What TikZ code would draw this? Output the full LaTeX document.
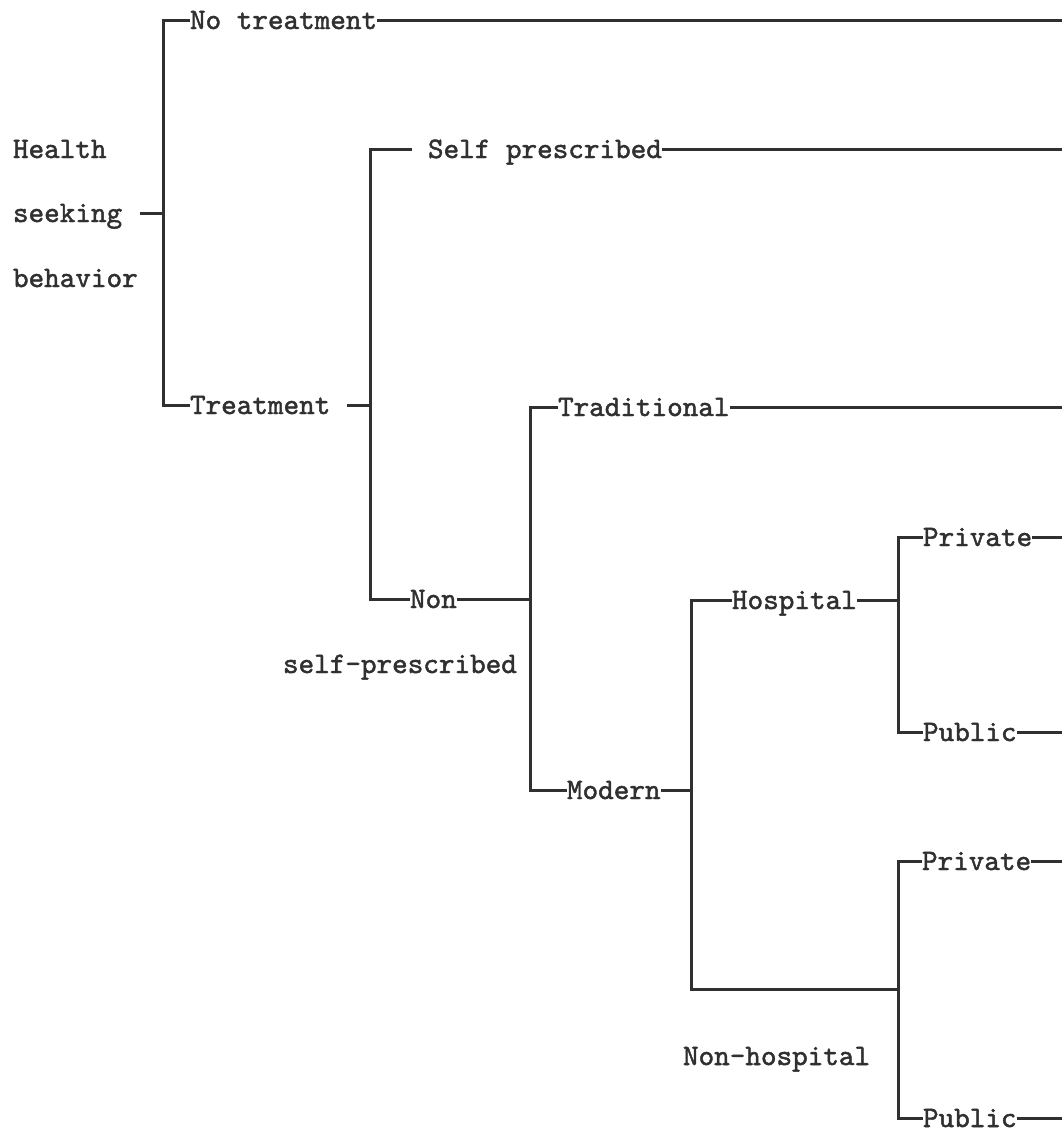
\documentclass[tikz,border=0pt]{standalone}
\usepackage{fontspec}
\newfontfamily\typewriter{lmmono10-regular}[Extension=.otf, FakeBold=1.6]
\definecolor{ink}{HTML}{303030}
\tikzset{
  lbl/.style={font=\fontsize{29.7}{32}\selectfont\typewriter, text=ink,
    inner sep=0pt, outer sep=0pt, text height=18pt, text depth=0pt, anchor=west},
  wire/.style={draw=ink, line width=3pt, line join=miter},
}
\begin{document}
\begin{tikzpicture}[x=1pt,y=-1pt]
\useasboundingbox (0,0) rectangle (1062,1135);

% right margin where every leaf line ends, and the trunk columns
\coordinate (edge) at (1062,0);
\coordinate (t1) at (163,0);
\coordinate (t2) at (370,0);
\coordinate (t3) at (530,0);
\coordinate (t4) at (691,0);
\coordinate (t5) at (898,0);

% root
\node[lbl] (hlth) at (13,149) {Health};
\node[lbl] (seek) at (13,213) {seeking};
\node[lbl] (behv) at (13,278) {behavior};

% first split
\node[lbl] (notr) at (190,20) {No treatment};
\node[lbl] (treat) at (190,405) {Treatment};

% second split
\node[lbl] (selfp) at (428,149) {Self prescribed};
\node[lbl] (non) at (410,599) {Non};
\node[lbl, anchor=base west] (nonsub) at (283,673) {self-prescribed};

% third split
\node[lbl] (trad) at (558,407) {Traditional};
\node[lbl] (mod) at (567,790) {Modern};

% fourth split
\node[lbl] (hosp) at (732,600) {Hospital};
\coordinate (nh) at (898,989);
\node[lbl, anchor=base west] (nhlbl) at (683,1065) {Non-hospital};

% leaves
\node[lbl] (priA) at (923,537) {Private};
\node[lbl] (pubA) at (923,732) {Public};
\node[lbl] (priB) at (922,861) {Private};
\node[lbl] (pubB) at (923,1118) {Public};

% root bracket
\draw[wire] ([xshift=18pt]seek.east) -- (seek.east -| t1);
\draw[wire] (notr.west) -| (treat.west -| t1) -- (treat.west);
\draw[wire] (notr.east) -- (notr.east -| edge);

% treatment bracket
\draw[wire] ([xshift=17pt]treat.east) -- (treat.east -| t2);
\draw[wire] ([xshift=-16pt]selfp.west) -| (non.west -| t2) -- (non.west);
\draw[wire] (selfp.east) -- (selfp.east -| edge);

% non self-prescribed bracket
\draw[wire] (non.east) -- (non.east -| t3);
\draw[wire] (trad.west) -| (mod.west -| t3) -- (mod.west);
\draw[wire] (trad.east) -- (trad.east -| edge);

% modern bracket
\draw[wire] (mod.east) -- (mod.east -| t4);
\draw[wire] (hosp.west) -| (nh -| t4) -- (nh);

% hospital bracket
\draw[wire] (hosp.east) -- (hosp.east -| t5);
\draw[wire] (priA.west) -| (pubA.west -| t5) -- (pubA.west);
\draw[wire] (priA.east) -- (priA.east -| edge);
\draw[wire] (pubA.east) -- (pubA.east -| edge);

% non-hospital bracket
\draw[wire] (priB.west) -| (pubB.west -| t5) -- (pubB.west);
\draw[wire] (priB.east) -- (priB.east -| edge);
\draw[wire] (pubB.east) -- (pubB.east -| edge);
\end{tikzpicture}
\end{document}
